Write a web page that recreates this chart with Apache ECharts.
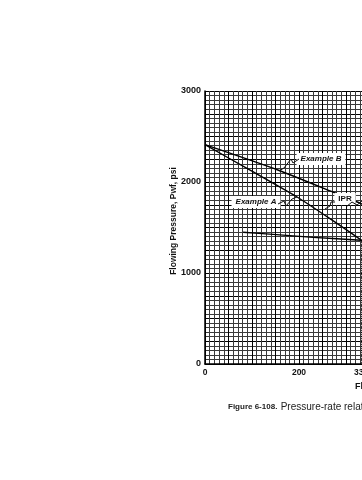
<!DOCTYPE html>
<html><head><meta charset="utf-8">
<script src="https://cdn.jsdelivr.net/npm/echarts@6/dist/echarts.min.js"></script>
<style>html,body{margin:0;padding:0;background:#fff;overflow:hidden;width:362px;height:480px}#c{width:800px;height:480px}</style>
</head><body><div id="c"></div>
<script>
// ---- data ----
const rateTickLabels = [0, 200, 332, 400, 600, 800];
const pressureTickLabels = [0, 1000, 2000, 3000];
const exampleBRate = [0, 155, 277, 334, 420];
const exampleBPressure = [2410, 2132, 1879, 1758, 1560];
const exampleARate = [0, 96, 196, 265, 332, 420];
const exampleAPressure = [2410, 2130, 1835, 1600, 1362, 1020];
const tubingRate = [81, 145, 230, 332, 420];
const tubingPressure = [1447, 1425, 1392, 1360, 1330];
const operatingRate = 332;
const operatingPressure = 1360;

const zip = (a, b) => a.map((v, i) => [v, b[i]]);
const F = '"Liberation Sans", Arial, sans-serif';
const chart = echarts.init(document.getElementById('c'), null, {renderer: 'canvas'});

const lineStyle = {color: '#000', width: 1.4};
chart.setOption({
  animation: false,
  backgroundColor: '#fff',
  grid: {left: 205, top: 91, width: 376, height: 273, containLabel: false, outerBoundsMode: 'none'},
  xAxis: {
    type: 'value', min: 0, max: 800, interval: 50,
    axisLine: {show: true, onZero: false, lineStyle: {color: '#000', width: 1.5}},
    axisTick: {show: false},
    axisLabel: {customValues: rateTickLabels, formatter: v => String(v), color: '#111', fontFamily: F, fontWeight: 'bold', fontSize: 8.5, margin: 4},
    splitLine: {show: true, lineStyle: {color: '#000', width: 1}},
    minorTick: {show: false, splitNumber: 5},
    minorSplitLine: {show: true, lineStyle: {color: '#3a3a3a', width: 1}}
  },
  yAxis: {
    type: 'value', min: 0, max: 3000, interval: 250,
    axisLine: {show: true, onZero: false, lineStyle: {color: '#000', width: 1.5}},
    axisTick: {show: false},
    axisLabel: {customValues: pressureTickLabels, formatter: v => String(v), color: '#111', fontFamily: F, fontWeight: 'bold', fontSize: 9, margin: 4},
    splitLine: {show: true, lineStyle: {color: '#000', width: 1}},
    minorTick: {show: false, splitNumber: 5},
    minorSplitLine: {show: true, lineStyle: {color: '#3a3a3a', width: 1}}
  },
  series: [
    {name: 'Example B', type: 'line', data: zip(exampleBRate, exampleBPressure), showSymbol: false, smooth: 0.2, lineStyle},
    {name: 'Example A', type: 'line', data: zip(exampleARate, exampleAPressure), showSymbol: false, smooth: 0.2, lineStyle},
    {name: 'Tubing', type: 'line', data: zip(tubingRate, tubingPressure), showSymbol: false, smooth: 0.2, lineStyle,
     markLine: {silent: true, symbol: 'none', label: {show: false},
       lineStyle: {type: 'dotted', color: '#000', width: 1},
       data: [[{coord: [operatingRate, operatingPressure]}, {coord: [operatingRate, 0]}]]}}
  ]
});

const boxText = (txt, x, y, italic) => ({
  type: 'text', x, y, z: 100,
  style: {text: txt, fill: '#111', font: (italic ? 'italic ' : '') + 'bold 8px ' + F,
    align: 'center', verticalAlign: 'middle', backgroundColor: '#fff', padding: [2, 4]}
});
const leader = (pts) => ({type: 'polyline', z: 101, shape: {points: pts}, style: {stroke: '#111', lineWidth: 1, fill: null}});

chart.setOption({
  graphic: [
    boxText('Example B', 321, 159, true),
    boxText('Example A', 256, 202, true),
    boxText('IPR', 345, 199, false),
    leader([[299, 159], [293, 163], [291, 159], [284, 168], [279, 171]]),
    leader([[278, 204], [284, 201], [286, 206], [292, 199], [297, 197]]),
    leader([[335, 202], [331, 202], [330, 206], [325, 209]]),
    leader([[346, 207], [352, 202], [357, 205], [362, 201]]),
    {type: 'text', x: 174, y: 221, rotation: Math.PI / 2, z: 100,
     style: {text: 'Flowing Pressure, Pwf, psi', fill: '#111', font: 'bold 8.5px ' + F, align: 'center', verticalAlign: 'middle'}},
    {type: 'text', x: 355, y: 387, z: 100,
     style: {text: 'Flowing Rate, q, B/D', fill: '#111', font: 'bold 9px ' + F, align: 'left', verticalAlign: 'middle'}},
    {type: 'text', x: 228, y: 407, z: 100,
     style: {text: '{b|Figure 6-108.} {n|Pressure-rate relationship for Examples A and B.}', fill: '#222',
       align: 'left', verticalAlign: 'middle',
       rich: {b: {fontWeight: 'bold', fontSize: 8, fontFamily: F, fill: '#222'},
              n: {fontSize: 10, fontFamily: F, fill: '#222'}}}}
  ]
});
</script></body></html>
